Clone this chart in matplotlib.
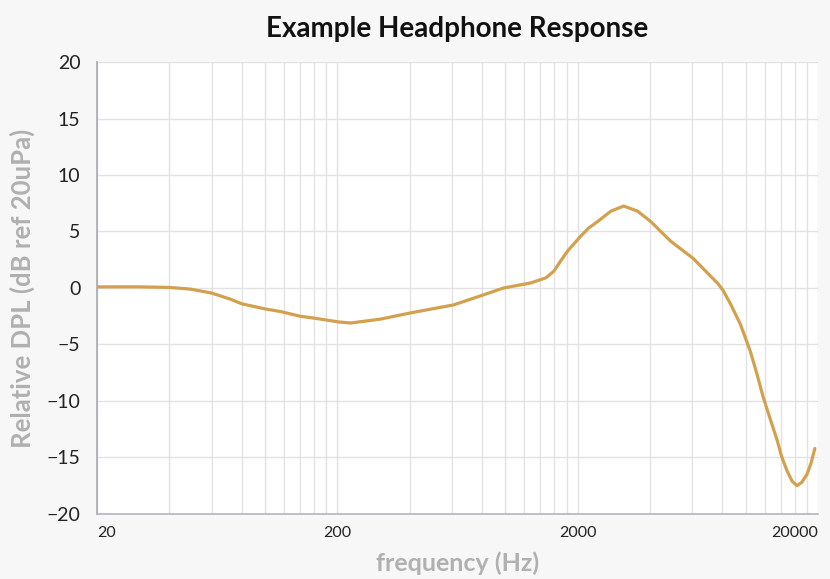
import numpy as np
import matplotlib
matplotlib.use('Agg')
import matplotlib.pyplot as plt
from matplotlib.ticker import FixedLocator, NullFormatter

# measured response, frequency in Hz and level in dB
freq_hz = [20, 30, 40, 49, 60, 72, 80, 100, 117, 140, 158, 202, 227, 303, 404,
           608, 787, 983, 1277, 1475, 1593, 1700, 1819, 2061, 2220, 2427, 2747,
           3107, 3549, 4017, 4870, 6057, 7695, 8070, 8640, 9500, 10450, 11100,
           11840, 12650, 13530, 14100, 14870, 15600, 16350, 17100, 17980,
           18700, 19400]
level_db = [0.1, 0.1, 0.05, -0.1, -0.45, -1.0, -1.4, -1.85, -2.1, -2.5, -2.65,
            -3.0, -3.1, -2.75, -2.2, -1.5, -0.7, 0.0, 0.45, 0.9, 1.5, 2.4, 3.3,
            4.6, 5.3, 5.9, 6.8, 7.25, 6.8, 5.9, 4.15, 2.6, 0.35, -0.25, -1.4,
            -3.2, -5.6, -7.5, -9.7, -11.6, -13.5, -14.9, -16.2, -17.1, -17.5,
            -17.2, -16.5, -15.5, -14.2]

x_ticks = [20, 200, 2000, 20000]
y_ticks = [-20, -15, -10, -5, 0, 5, 10, 15, 20]
grid_x = [m * 2 * 10 ** e for e in range(1, 4) for m in range(1, 10)] + [20000]

plt.rcParams['font.family'] = ['Lato', 'DejaVu Sans']

fig = plt.figure(figsize=(8.3, 5.79), dpi=100, facecolor='#f7f7f7')
ax = fig.add_axes([0.1169, 0.1123, 0.8687, 0.7806])
ax.set_facecolor('white')

ax.plot(freq_hz, level_db, color='#d3a14e', linewidth=2.3,
        solid_capstyle='round', solid_joinstyle='round', zorder=3)

ax.set_xscale('log')
ax.set_xlim(20, 20000)
ax.set_ylim(-20, 20)

ax.xaxis.set_major_locator(FixedLocator(x_ticks))
ax.xaxis.set_minor_locator(FixedLocator(grid_x))
ax.xaxis.set_minor_formatter(NullFormatter())
ax.set_xticklabels([str(t) for t in x_ticks])
ax.set_yticks(y_ticks)

ax.grid(True, which='both', axis='x', color='#e2e2e2', linewidth=1.0)
ax.grid(True, which='major', axis='y', color='#e2e2e2', linewidth=1.0)
ax.tick_params(axis='both', which='both', length=0)
ax.tick_params(axis='x', labelsize=11.5, pad=9, colors='#222222')
ax.tick_params(axis='y', labelsize=14, pad=12, colors='#222222')

# keep the end labels inside the plot width
xlabels = ax.get_xticklabels()
xlabels[0].set_horizontalalignment('left')
xlabels[-1].set_horizontalalignment('right')

for side in ['top', 'right']:
    ax.spines[side].set_visible(False)
ax.spines['left'].set_color('#a8a8b0')
ax.spines['bottom'].set_color('#b4b4bc')
ax.spines['left'].set_linewidth(1.2)
ax.spines['bottom'].set_linewidth(1.2)

ax.set_title('Example Headphone Response', fontsize=20, fontweight='bold',
             color='#111111', pad=18)
ax.set_xlabel('frequency (Hz)', fontsize=18, fontweight='bold', color='#b0b0b0', labelpad=8)
ax.set_ylabel('Relative DPL (dB ref 20uPa)', fontsize=18.5, fontweight='bold',
              color='#b0b0b0', labelpad=8)

fig.savefig('out.png', dpi=100, facecolor=fig.get_facecolor())
